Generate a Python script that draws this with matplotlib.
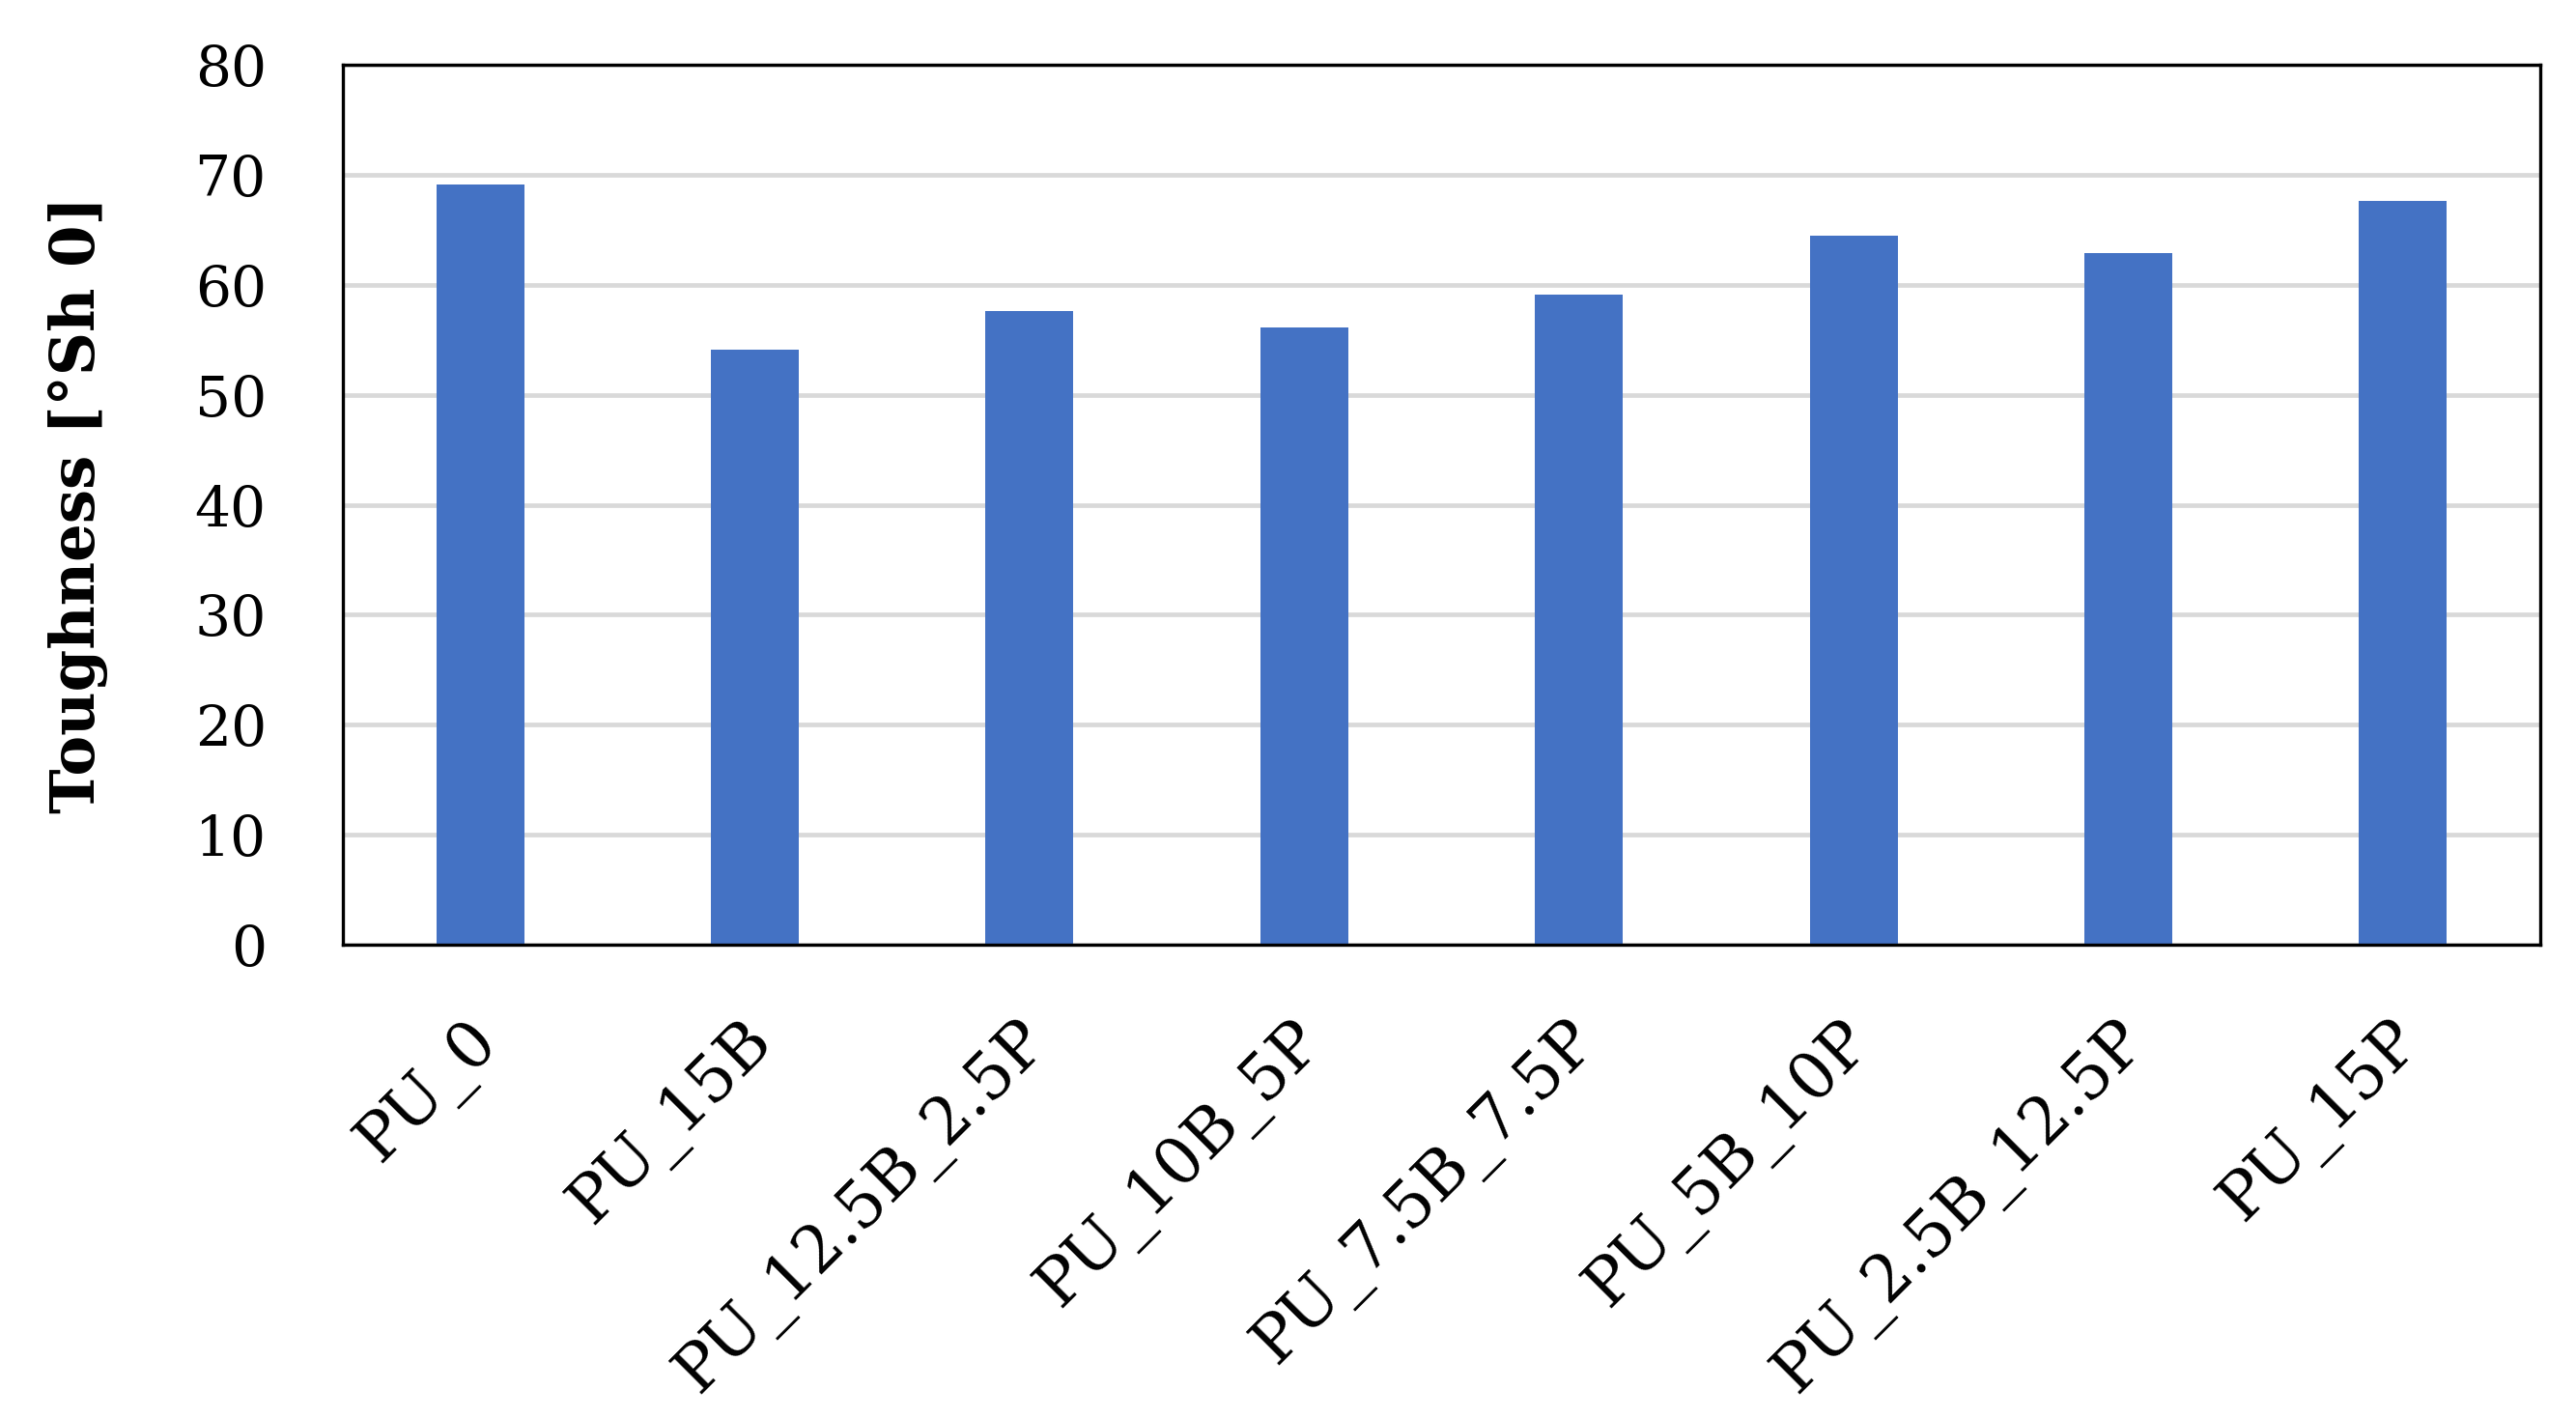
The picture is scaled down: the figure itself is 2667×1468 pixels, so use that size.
import matplotlib
matplotlib.use("Agg")
import matplotlib.pyplot as plt
import matplotlib.transforms as mtransforms

categories = ["PU_0", "PU_15B", "PU_12.5B_2.5P", "PU_10B_5P", "PU_7.5B_7.5P",
              "PU_5B_10P", "PU_2.5B_12.5P", "PU_15P"]
toughness = [69.1, 54.1, 57.6, 56.1, 59.1, 64.5, 62.9, 67.6]
yticks = [0, 10, 20, 30, 40, 50, 60, 70, 80]
ylabel = "Toughness [°Sh 0]"

plt.rcParams['font.family'] = ['DejaVu Serif']

W, H, DPI = 2667, 1468, 100
fig = plt.figure(figsize=(W / DPI, H / DPI), dpi=DPI)
ax = fig.add_axes([355 / W, 1 - 978 / H, (2630 - 355) / W, (978 - 67) / H])

x = list(range(len(categories)))
ax.bar(x, toughness, width=0.32, color="#4472C4", zorder=3)

ax.set_xlim(-0.5, len(categories) - 0.5)
ax.set_ylim(0, 80)
ax.set_yticks(yticks)
ax.set_yticklabels([str(v) for v in yticks], fontsize=42)
ax.yaxis.grid(True, color="#D9D9D9", linewidth=3.4, zorder=0)
ax.set_axisbelow(True)
ax.tick_params(axis='y', length=0, pad=57)
ax.tick_params(axis='x', length=0, pad=0)

ax.set_xticks(x)
labels = ax.set_xticklabels(categories, fontsize=48, rotation=45,
                            ha='right', va='top', rotation_mode='anchor')
offset = mtransforms.ScaledTranslation(-15 / DPI, -67 / DPI, fig.dpi_scale_trans)
for lab in labels:
    lab.set_transform(lab.get_transform() + offset)

for s in ax.spines.values():
    s.set_color("black")
    s.set_linewidth(2.4)
    s.set_zorder(4)

ax.set_ylabel(ylabel, fontsize=45, fontweight='bold')
ax.yaxis.set_label_coords(112 / W, 1 - (67 + 978) / 2 / H, transform=fig.transFigure)

fig.savefig("out.png", dpi=DPI, facecolor="white")
